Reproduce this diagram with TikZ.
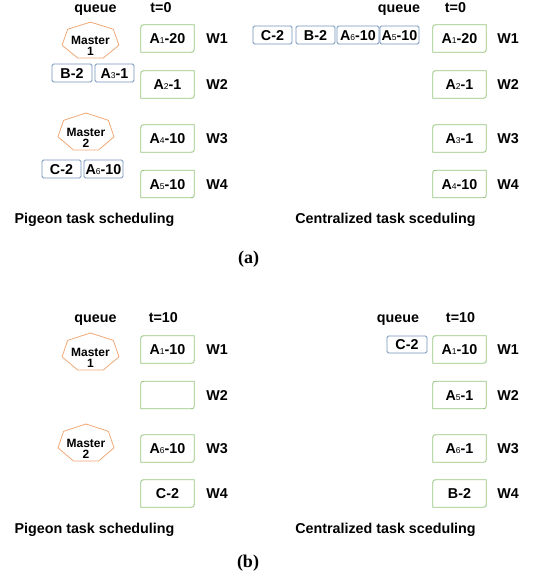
\documentclass[tikz,border=0pt]{standalone}
\usepackage{fontspec}
\setsansfont{Liberation Sans}
\newfontfamily\capfont{Liberation Serif}
\usetikzlibrary{calc}

\definecolor{wgreen}{RGB}{150,196,126}
\definecolor{qblue}{RGB}{116,146,188}
\definecolor{morange}{RGB}{240,168,118}

% small index digit after a task letter
\newcommand\idx[1]{\raisebox{-0.4pt}{\fontsize{8.5}{8.5}\selectfont\mdseries #1}}

% worker frame: rounded top-left and bottom-right corners
\newcommand\wframe[1]{%
  \draw[wline] ([xshift=5pt]#1.north west) -- (#1.north east)
    -- ([yshift=5pt]#1.south east) .. controls (#1.south east) .. ([xshift=-5pt]#1.south east)
    -- (#1.south west) -- ([yshift=-5pt]#1.north west)
    .. controls (#1.north west) .. ([xshift=5pt]#1.north west) -- cycle;}

% master heptagon around a text node (shape centre 5pt above the text)
\newcommand\hepta[3]{%
  \draw[mline] ($(#1)+(0,-5)+(-90:#2 and #3)$)
    \foreach \k in {1,...,6}{ -- ($(#1)+(0,-5)+({-90+\k*360/7}:#2 and #3)$)} -- cycle;}

\begin{document}
\begin{tikzpicture}[x=1pt,y=-1pt,
  lbl/.style={font=\sffamily\bfseries\fontsize{14.3}{16}\selectfont, inner sep=0pt},
  mid/.style={lbl, text height=10pt, text depth=0pt},
  wbox/.style={mid, minimum width=53pt, minimum height=27pt},
  wline/.style={draw=wgreen, line width=0.8pt},
  qbox/.style={mid, draw=qblue, line width=0.8pt, rounded corners=1.5pt, minimum height=18pt},
  mtext/.style={font=\sffamily\bfseries\fontsize{12}{11}\selectfont, align=center, inner sep=0pt},
  mline/.style={draw=morange, line width=0.8pt},
  head/.style={lbl, anchor=base},
  figcap/.style={font=\capfont\bfseries\fontsize{18}{20}\selectfont, inner sep=0pt, anchor=base},
]
\useasboundingbox (0,0) rectangle (534,582);

% ================= (a) t=0 =================
% --- Pigeon ---
\node[head] (qla) at (95.5,12) {queue};
\node[head] (tla) at (161,12) {t=0};
\node[mtext] (m1a) at (90.5,46) {Master\\1};
\hepta{m1a}{29.2}{18.9}
\node[mtext] (m2a) at (86,137.5) {Master\\2};
\hepta{m2a}{28.7}{19.5}
\node[qbox, minimum width=40pt] (qa1) at (72,73) {B-2};
\node[qbox, minimum width=39pt] (qa2) at (114.5,73) {A\idx{3}-1};
\node[qbox, minimum width=39pt] (qa3) at (61.5,169) {C-2};
\node[qbox, minimum width=39pt] (qa4) at (103.5,169) {A\idx{6}-10};
\node[wbox] (la1) at (167.5,38.5) {A\idx{1}-20};
\node[wbox] (la2) at (167.5,84.5) {A\idx{2}-1};
\node[wbox] (la3) at (167.5,138.5) {A\idx{4}-10};
\node[wbox] (la4) at (167.5,184) {A\idx{5}-10};
\node[mid] (lwa1) at (217,38.5) {W1};
\node[mid] (lwa2) at (217,84.5) {W2};
\node[mid] (lwa3) at (217,138.5) {W3};
\node[mid] (lwa4) at (217,184) {W4};
\node[head] (pta) at (94.5,223) {Pigeon task scheduling};

% --- Centralized ---
\node[head] (qra) at (399,12) {queue};
\node[head] (tra) at (455.5,12) {t=0};
\node[qbox, minimum width=39pt] (qr1) at (272.5,35) {C-2};
\node[qbox, minimum width=39pt] (qr2) at (315.5,35) {B-2};
\node[qbox, minimum width=42pt] (qr3) at (358,35) {A\idx{6}-10};
\node[qbox, minimum width=39pt] (qr4) at (399.5,35) {A\idx{5}-10};
\node[wbox] (ra1) at (459.5,38.5) {A\idx{1}-20};
\node[wbox] (ra2) at (459.5,84.5) {A\idx{2}-1};
\node[wbox] (ra3) at (459.5,138.5) {A\idx{3}-1};
\node[wbox] (ra4) at (459.5,184) {A\idx{4}-10};
\node[mid] (rwa1) at (508,38.5) {W1};
\node[mid] (rwa2) at (508,84.5) {W2};
\node[mid] (rwa3) at (508,138.5) {W3};
\node[mid] (rwa4) at (508,184) {W4};
\node[head] (cta) at (385.5,223) {Centralized task sceduling};

\node[figcap] (capa) at (248.5,263) {(a)};

% ================= (b) t=10 =================
% --- Pigeon ---
\node[head] (qlb) at (95.5,322) {queue};
\node[head] (tlb) at (163.3,322) {t=10};
\node[mtext] (m1b) at (90.5,357.5) {Master\\1};
\hepta{m1b}{29.2}{19.5}
\node[mtext] (m2b) at (86,448.5) {Master\\2};
\hepta{m2b}{28.7}{19.5}
\node[wbox] (lb1) at (167.5,349.5) {A\idx{1}-10};
\node[wbox] (lb2) at (167.5,395) {};
\node[wbox] (lb3) at (167.5,448.5) {A\idx{6}-10};
\node[wbox] (lb4) at (167.5,493.5) {C-2};
\node[mid] (lwb1) at (217,349.5) {W1};
\node[mid] (lwb2) at (217,395) {W2};
\node[mid] (lwb3) at (217,448.5) {W3};
\node[mid] (lwb4) at (217,493.5) {W4};
\node[head] (ptb) at (94.5,533) {Pigeon task scheduling};

% --- Centralized ---
\node[head] (qrb) at (398,322) {queue};
\node[head] (trb) at (460.5,322) {t=10};
\node[qbox, minimum width=40pt, minimum height=17pt] (qr5) at (407,344.5) {C-2};
\node[wbox] (rb1) at (459.5,349.5) {A\idx{1}-10};
\node[wbox] (rb2) at (459.5,395) {A\idx{5}-1};
\node[wbox] (rb3) at (459.5,448.5) {A\idx{6}-1};
\node[wbox] (rb4) at (459.5,493.5) {B-2};
\node[mid] (rwb1) at (508,349.5) {W1};
\node[mid] (rwb2) at (508,395) {W2};
\node[mid] (rwb3) at (508,448.5) {W3};
\node[mid] (rwb4) at (508,493.5) {W4};
\node[head] (ctb) at (385.5,533) {Centralized task sceduling};

\node[figcap] (capb) at (248,567) {(b)};

% worker frames
\foreach \n in {la1,la2,la3,la4,ra1,ra2,ra3,ra4,lb1,lb2,lb3,lb4,rb1,rb2,rb3,rb4}{\wframe{\n}}
\end{tikzpicture}
\end{document}
